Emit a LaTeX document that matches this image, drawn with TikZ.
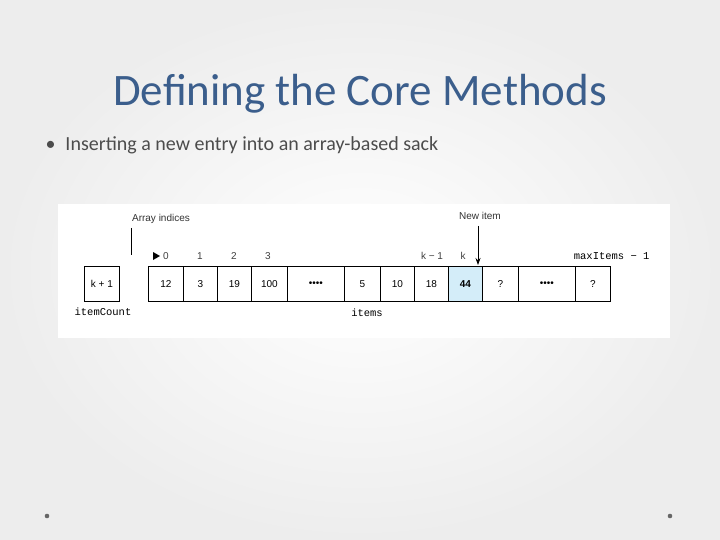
\documentclass[tikz,border=0pt]{standalone}
\usepackage{fontspec}
\usetikzlibrary{arrows.meta}
\setmainfont{Carlito}
\newfontfamily\lsans{Liberation Sans}
\newfontfamily\lmono{Liberation Mono}
\definecolor{titleblue}{HTML}{3B5E8C}
\definecolor{cellblue}{HTML}{D4EDF9}
\definecolor{bgray}{HTML}{EDEDED}
\begin{document}
\begin{tikzpicture}[x=1pt,y=-1pt,
  cell/.style={draw=black,line width=0.9pt,minimum height=35pt,inner sep=0pt,font=\lsans\fontsize{10}{12}\selectfont,anchor=north west},
  idx/.style={font=\lsans\fontsize{10}{12}\selectfont,text=black!75},
  captxt/.style={font=\lsans\fontsize{10}{12}\selectfont,text=black!80},
  mono/.style={font=\lmono\fontsize{10.5}{12}\selectfont}]
\useasboundingbox (0,0) rectangle (720,540);
\shade[inner color=white,outer color=bgray] (0,0) rectangle (720,540);
\node[text=titleblue,font=\fontsize{45}{50}\selectfont] (title) at (360,94) {Defining the Core Methods};
\node[anchor=west,text=black!70,font=\fontsize{20}{24}\selectfont] (bul) at (42,145) {•\hspace{10pt}Inserting a new entry into an array-based sack};
\fill[white] (58,204) rectangle (670,338);
\node[cell,minimum width=35pt] (ic) at (84,266) {k + 1};
\node[mono] (iclab) at (103,312) {itemCount};
\foreach \a/\b/\t/\n in {148/183/12/c0,183/217/3/c1,217/251/19/c2,251/287/100/c3,287/344/{••••}/cd1,344/380/5/c5,380/414/10/c6,414/448/18/c7,482/518/?/c9,518/575/{••••}/cd2,575/610/?/c11}{
  \node[cell,minimum width={\b-\a}] (\n) at (\a,266) {\t};
}
\node[cell,minimum width=34pt,fill=cellblue] (c8) at (448,266) {\textbf{44}};
\node[mono] (itlab) at (367,313) {items};
\node[idx] (i0) at (166,256) {0};
\fill (153,252) -- (160,256) -- (153,260) -- cycle;
\node[idx] (i1) at (200,256) {1};
\node[idx] (i2) at (234,256) {2};
\node[idx] (i3) at (268,256) {3};
\node[idx] (ik1) at (432,256) {k − 1};
\node[idx] (ik) at (463,256) {k};
\node[mono,anchor=east] (imax) at (653,256) {maxItems − 1};
\node[captxt] (ai) at (161,219) {Array indices};
\coordinate (aitop) at (131,228);
\coordinate (aiend) at (131,255);
\draw[line width=0.8pt] (aitop) -- (aiend);
\node[captxt] (ni) at (480,216) {New item};
\coordinate (nitop) at (478,226);
\coordinate (niend) at (478,265);
\draw[line width=0.8pt,-{Stealth[length=7pt,width=5pt]}] (nitop) -- (niend);
\fill[black!60] (47,516) circle (2.3);
\fill[black!60] (670,516) circle (2.3);
\end{tikzpicture}
\end{document}
